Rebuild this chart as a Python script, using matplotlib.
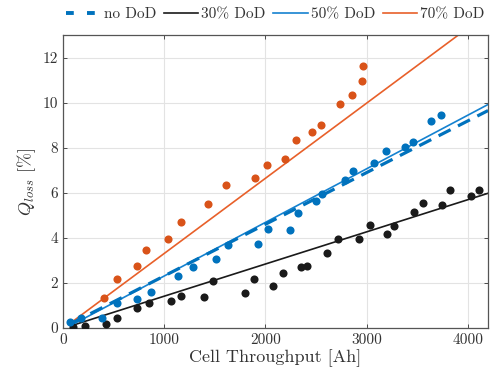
import matplotlib
matplotlib.use("Agg")
import matplotlib.pyplot as plt
from matplotlib.lines import Line2D
import numpy as np

plt.rcParams['font.family'] = ['cmr10']
plt.rcParams['mathtext.fontset'] = 'cm'
plt.rcParams['axes.formatter.use_mathtext'] = True

# ---- data ----
orange_x = [407, 529, 736, 824, 1041, 1169, 1435, 1606, 1898, 2013, 2197, 2302,
            2460, 2549, 2739, 2857, 2956, 2969]
orange_y = [1.34, 2.17, 2.76, 3.47, 3.94, 4.69, 5.49, 6.36, 6.64, 7.24, 7.52, 8.35,
            8.72, 9.01, 9.94, 10.33, 10.96, 11.64]

blue_x = [69, 180, 381, 529, 736, 866, 1140, 1281, 1510, 1629, 1924, 2023, 2243,
          2320, 2499, 2558, 2782, 2867, 3077, 3192, 3376, 3458, 3635, 3731]
blue_y = [0.27, 0.46, 0.46, 1.13, 1.28, 1.60, 2.31, 2.71, 3.06, 3.70, 3.74, 4.41,
          4.34, 5.12, 5.65, 5.96, 6.55, 6.96, 7.33, 7.86, 8.03, 8.27, 9.17, 9.44]

black_x = [102, 217, 430, 535, 736, 850, 1071, 1169, 1396, 1478, 1796, 1892, 2076,
           2177, 2348, 2410, 2611, 2713, 2926, 3034, 3199, 3268, 3471, 3553, 3747,
           3820, 4030, 4108]
black_y = [0.05, 0.10, 0.18, 0.46, 0.88, 1.12, 1.19, 1.44, 1.37, 2.09, 1.56, 2.17,
           1.86, 2.43, 2.71, 2.74, 3.35, 3.97, 3.97, 4.59, 4.19, 4.51, 5.13, 5.53,
           5.46, 6.12, 5.88, 6.12]

fit_x = [80, 4200]
fit_nodod_y = [0.20, 9.65]
fit_30_y = [0.10, 5.98]
fit_50_y = [0.12, 9.92]
fit_70_y = [0.24, 13.98]

xticks = [0, 1000, 2000, 3000, 4000]
yticks = [0, 2, 4, 6, 8, 10, 12]

c_blue = '#0072BD'
c_orange = '#D95319'
c_black = '#1a1a1a'
c_blue_line = '#1582d0'
c_orange_line = '#e8602a'

fig = plt.figure(figsize=(4.92, 3.81), dpi=100)
ax = fig.add_axes([0.128, 0.139, 0.864, 0.769])

ln_nodod, = ax.plot(fit_x, fit_nodod_y, color=c_blue, lw=2.3, dashes=(4.2, 2.6), zorder=4)
ln30, = ax.plot(fit_x, fit_30_y, color=c_black, lw=1.2, zorder=2)
ln50, = ax.plot(fit_x, fit_50_y, color=c_blue_line, lw=1.2, zorder=2)
ln70, = ax.plot(fit_x, fit_70_y, color=c_orange_line, lw=1.2, zorder=2)

ax.scatter(black_x, black_y, s=34, color=c_black, zorder=3, linewidths=0)
ax.scatter(blue_x, blue_y, s=34, color=c_blue, zorder=3, linewidths=0)
ax.scatter(orange_x, orange_y, s=34, color=c_orange, zorder=3, linewidths=0)

ax.set_xlim(0, 4200)
ax.set_ylim(0, 13)
ax.set_xticks(xticks)
ax.set_xticklabels([str(t) for t in xticks])
ax.set_yticks(yticks)
ax.set_yticklabels([str(t) for t in yticks])
ax.grid(True, color='#e3e3e3', lw=0.8)
ax.set_axisbelow(True)
ax.tick_params(direction='in', length=3, width=0.6, colors='#333333', labelsize=11,
               top=True, right=True, labeltop=False, labelright=False)
for sp in ax.spines.values():
    sp.set_color('#555555')
    sp.set_linewidth(0.9)

ax.set_xlabel('Cell Throughput [Ah]', fontsize=13, color='#333333', labelpad=2)
ax.set_ylabel(r'$Q_{loss}$ [%]', fontsize=13, color='#333333', labelpad=3)

h_nodod = Line2D([], [], color=c_blue, lw=2.8, dashes=(2.0, 3.4))
h30 = Line2D([], [], color=c_black, lw=1.2)
h50 = Line2D([], [], color=c_blue_line, lw=1.2)
h70 = Line2D([], [], color=c_orange_line, lw=1.2)
fig.legend([h_nodod, h30, h50, h70], ['no DoD', '30% DoD', '50% DoD', '70% DoD'],
           loc='center', bbox_to_anchor=(0.56, 0.962), ncol=4, frameon=False,
           fontsize=11, handlelength=2.25, handletextpad=0.2, columnspacing=0.5,
           labelcolor='#333333', borderpad=0.1)

fig.savefig('out.png', dpi=100)
